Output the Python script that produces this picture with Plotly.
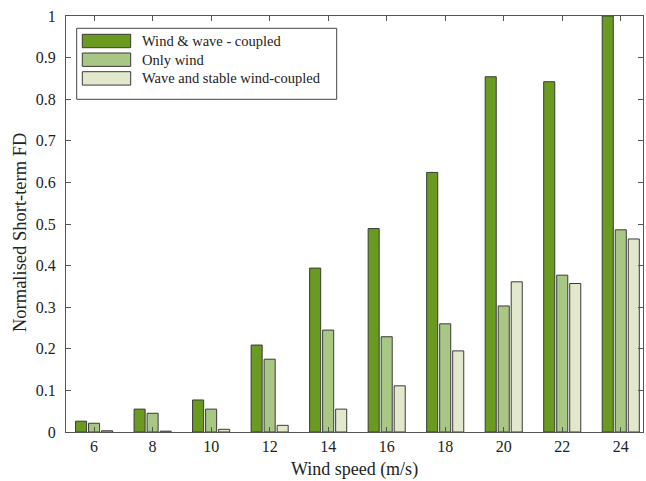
import plotly.graph_objects as go

wind_speed = [6, 8, 10, 12, 14, 16, 18, 20, 22, 24]
coupled = [0.026, 0.055, 0.077, 0.209, 0.394, 0.489, 0.624, 0.854, 0.842, 1.0]
only_wind = [0.021, 0.045, 0.055, 0.175, 0.245, 0.229, 0.260, 0.303, 0.377, 0.486]
stable = [0.003, 0.002, 0.0065, 0.016, 0.055, 0.111, 0.195, 0.361, 0.357, 0.464]
y_ticks = [0, 0.1, 0.2, 0.3, 0.4, 0.5, 0.6, 0.7, 0.8, 0.9, 1]
y_tick_labels = ["0", "0.1", "0.2", "0.3", "0.4", "0.5", "0.6", "0.7", "0.8", "0.9", "1"]
series_names = ["Wind & wave - coupled", "Only wind", "Wave and stable wind-coupled"]
series_values = [coupled, only_wind, stable]
series_colors = ["#6a9a1f", "#a9c784", "#e2e8cc"]

W, H = 646, 481
ML, MR, MT, MB = 66, 3, 16, 49
PW, PH = W - ML - MR, H - MT - MB


def px_x(px):
    return (px - ML) / PW


def px_y(py):
    return (H - MB - py) / PH


font_family = "Liberation Serif"
edge = "#3a3a3a"

fig = go.Figure()
for name, vals, col in zip(series_names, series_values, series_colors):
    fig.add_trace(go.Bar(
        x=wind_speed, y=vals, name=name,
        marker=dict(color=col, line=dict(color=edge, width=1)),
    ))

axis_common = dict(
    showline=True, linecolor="#555555", linewidth=1, mirror="ticks",
    ticks="inside", ticklen=5, tickcolor="#555555",
    showgrid=False, zeroline=False,
    tickfont=dict(family=font_family, size=16, color="#222222"),
)

# custom legend (box, wide swatches, labels) in paper coordinates
shapes = [dict(type="rect", xref="paper", yref="paper",
               x0=px_x(76.7), x1=px_x(336.7), y0=px_y(99.3), y1=px_y(28.3),
               line=dict(color="#444444", width=1), fillcolor="white", layer="above")]
annotations = []
row_tops = [34.3, 53.0, 71.7]
for i, (name, col) in enumerate(zip(series_names, series_colors)):
    t = row_tops[i]
    shapes.append(dict(type="rect", xref="paper", yref="paper",
                       x0=px_x(82.3), x1=px_x(130.7), y0=px_y(t + 13.4), y1=px_y(t),
                       line=dict(color=edge, width=1), fillcolor=col, layer="above"))
    annotations.append(dict(xref="paper", yref="paper", x=px_x(140), y=px_y(t + 6.7),
                            xanchor="left", yanchor="middle", showarrow=False, text=name,
                            font=dict(family=font_family, size=14.5, color="#222222")))

annotations.append(dict(xref="paper", yref="paper", x=px_x(20), y=px_y(233),
                        xanchor="center", yanchor="middle", showarrow=False,
                        text="Normalised Short-term FD", textangle=-90,
                        font=dict(family=font_family, size=18.5, color="#222222")))

fig.update_layout(
    width=W, height=H,
    margin=dict(l=ML, r=MR, t=MT, b=MB),
    paper_bgcolor="white", plot_bgcolor="white",
    barmode="group", bargap=0.333, bargroupgap=0.15,
    font=dict(family=font_family, color="#222222"),
    showlegend=False,
    shapes=shapes,
    annotations=annotations,
    xaxis=dict(
        **axis_common,
        range=[5.04, 24.76],
        tickmode="array", tickvals=wind_speed,
        ticktext=[str(v) for v in wind_speed],
        title=dict(text="Wind speed (m/s)", font=dict(family=font_family, size=18), standoff=8),
    ),
    yaxis=dict(
        **axis_common,
        range=[0, 1],
        tickmode="array", tickvals=y_ticks, ticktext=y_tick_labels,
        ticklabelstandoff=6,
    ),
)

fig.write_html("out.html")
